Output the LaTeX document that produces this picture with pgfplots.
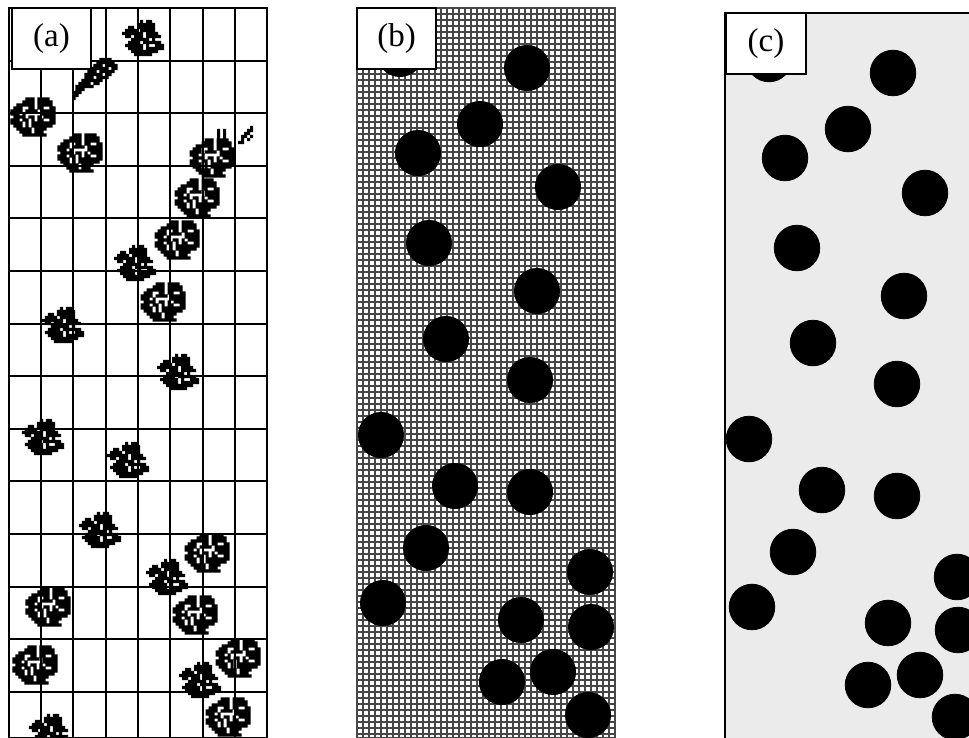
\documentclass[border=0pt]{standalone}
\usepackage{pgfplots}
\pgfplotsset{compat=1.18}
\usepackage{fontspec}
\setmainfont{Liberation Serif}

\makeatletter
\newcount\blob@c
\def\blobsetup#1#2{\def\blob@xo{#1}\def\blob@yo{#2}}
\def\blobrow#1#2{\blob@c=0\relax\def\blob@r{#1}\blob@scan#2\relax}
\def\blob@scan#1{%
  \ifx#1\relax
  \else
    \if x#1%
      \pgfpathrectangle{\pgfpoint{\the\blob@c*1.5pt-\blob@xo pt}{\blob@yo pt-\blob@r*1.5pt-1.5pt}}{\pgfpoint{1.55pt}{1.55pt}}%
    \fi
    \advance\blob@c by 1\relax
    \expandafter\blob@scan
  \fi}
\makeatother

\pgfdeclareplotmark{blobA}{%
  \blobsetup{10.5}{9}%
  \blobrow{0}{......x.xx....}%
  \blobrow{1}{.....xxxxxx...}%
  \blobrow{2}{..xx.xxxxxx...}%
  \blobrow{3}{.xxxx.xxxxx...}%
  \blobrow{4}{xxxxxxx.xxxx..}%
  \blobrow{5}{.xx.xxx.xxxxx.}%
  \blobrow{6}{...xxxxxx.x...}%
  \blobrow{7}{..xxxx.xxxxxx.}%
  \blobrow{8}{.xxxxxx.x..xxx}%
  \blobrow{9}{..xxxxx.xxxxxx}%
  \blobrow{10}{...xxxxxxxxx..}%
  \blobrow{11}{....xxxxxx....}%
  \pgfusepathqfill}

\pgfdeclareplotmark{blobB}{%
  \blobsetup{11.25}{9.75}%
  \blobrow{0}{.....xxx.xxxx..}%
  \blobrow{1}{....xxxx.xxxxx.}%
  \blobrow{2}{..xxxxxx.xxxxx.}%
  \blobrow{3}{.xxx..xx.xx..xx}%
  \blobrow{4}{xxxx.xxxx.xxxxx}%
  \blobrow{5}{xxx.x.....xxxxx}%
  \blobrow{6}{.xxxx.xx.x.xxxx}%
  \blobrow{7}{xxx.xx.x.xx..xx}%
  \blobrow{8}{xxxx.x.xxxxxxxx}%
  \blobrow{9}{.xxx.x.xxxxxxx.}%
  \blobrow{10}{..xxxxx.xxxx...}%
  \blobrow{11}{...xxxx.xxx....}%
  \blobrow{12}{....xxxxxxxx...}%
  \pgfusepathqfill}

\pgfdeclareplotmark{streak}{%
  \blobsetup{11.25}{10.5}%
  \blobrow{0}{.........xxxx..}%
  \blobrow{1}{........xxxxxx.}%
  \blobrow{2}{.......xxx.xxxx}%
  \blobrow{3}{......xxxxxx.xx}%
  \blobrow{4}{.....xxx.xxxxx.}%
  \blobrow{5}{....xxxxxx.xx..}%
  \blobrow{6}{....xxx.xxxx...}%
  \blobrow{7}{...xxxxxxx.....}%
  \blobrow{8}{..xxxx.xx......}%
  \blobrow{9}{.xxxxxx........}%
  \blobrow{10}{.xxx...........}%
  \blobrow{11}{xxx............}%
  \blobrow{12}{xx.............}%
  \blobrow{13}{x..............}%
  \pgfusepathqfill}

\pgfdeclareplotmark{bits}{%
  \blobsetup{10.5}{4.5}%
  \blobrow{0}{.............x}%
  \blobrow{1}{..x.x.......xx}%
  \blobrow{2}{..x.x......xx.}%
  \blobrow{3}{..x.x.....xx.x}%
  \blobrow{4}{..x.x.....x.x.}%
  \blobrow{5}{.........xx...}%
  \pgfusepathqfill}

\begin{document}
\begin{tikzpicture}
\path[use as bounding box] (0pt,0pt) rectangle (484.5pt,-369pt);

% ---------------- panel (a) ----------------
\begin{axis}[at={(69pt,-186.5pt)}, anchor=center, scale only axis,
  width=129pt, height=365pt,
  xmin=9, xmax=267, ymin=8, ymax=738, y dir=reverse,
  xtick={41.25,73.5,105.75,138,170.25,202.5,234.75},
  ytick={60.6,113.2,165.8,218.4,271,323.6,376.2,428.8,481.4,534,586.6,639.2,691.8},
  grid=major, major grid style={black, line width=1pt},
  tick style={draw=none}, xticklabels={}, yticklabels={},
  xticklabel style={text opacity=0}, yticklabel style={text opacity=0},
  xticklabel={\empty}, yticklabel={\empty},
  axis line style={black, line width=1.2pt},
  clip marker paths=true]
\addplot[only marks, mark=blobA, mark options={fill=black, draw=none}] coordinates {
 (143,38) (135,263) (63,325) (178,372) (43,437) (128,460) (100,530)
 (167,577) (200,680) (50,732)
};
\addplot[only marks, mark=blobB, mark options={fill=black, draw=none}] coordinates {
 (33,117) (-4,152) (80,153) (212,158) (197,198) (177,240) (163,302)
 (207,553) (48,607) (195,615) (2,628) (35,665) (238,658) (228,717)
};
\addplot[only marks, mark=streak, mark options={fill=black, draw=none}] coordinates {(95,79)};
\addplot[only marks, mark=bits, mark options={fill=black, draw=none}] coordinates {(232,135)};
\end{axis}

% ---------------- panel (b) ----------------
\begin{axis}[at={(243pt,-186.5pt)}, anchor=center, scale only axis,
  width=129pt, height=365pt,
  xmin=357, xmax=615, ymin=8, ymax=738, y dir=reverse,
  xtick={363,369,...,609}, ytick={14,20,...,734},
  grid=major, major grid style={black!72, line width=0.85pt},
  tick style={draw=none}, xticklabels={}, yticklabels={},
  xticklabel style={text opacity=0}, yticklabel style={text opacity=0},
  xticklabel={\empty}, yticklabel={\empty},
  axis line style={black!72, line width=0.85pt}]
\addplot[only marks, mark=*, mark size=11.3pt, mark options={fill=black, draw=none}] coordinates {
 (400,54) (527,68) (480,124) (418,153) (558,187) (429,243) (537,291) (446,339)
 (530,380) (381,435) (455,486) (530,492) (426,548) (590,572) (383,603)
 (521,620) (591,627) (502,682) (553,672) (588,715)
};
\end{axis}

% ---------------- panel (c) ----------------
\begin{axis}[at={(427pt,-188.25pt)}, anchor=center, scale only axis,
  width=129pt, height=363.5pt,
  xmin=725, xmax=983, ymin=13, ymax=740, y dir=reverse,
  axis background/.style={fill=black!8},
  ticks=none,
  axis line style={black, line width=1.2pt}]
\addplot[only marks, mark=*, mark size=11.4pt, mark options={fill=black, draw=none}] coordinates {
 (769,59) (893,73) (848,129) (785,158) (925,193) (797,248) (904,296) (813,343)
 (897,384) (749,439) (822,490) (897,496) (793,552) (957,577) (752,607)
 (888,623) (958,630) (868,685) (920,675) (955,717)
};
\end{axis}

% ---------------- panel labels ----------------
\tikzset{lab/.style={draw=black, line width=1pt, fill=white, inner sep=0pt,
  minimum width=39.5pt, minimum height=30.5pt, font=\fontsize{16.5}{18}\selectfont}}
\node[lab] at (25.75pt,-19.25pt) {(a)};
\node[lab] at (198.25pt,-19.25pt) {(b)};
\node[lab, minimum width=40pt] at (383pt,-21.75pt) {(c)};
\end{tikzpicture}
\end{document}
